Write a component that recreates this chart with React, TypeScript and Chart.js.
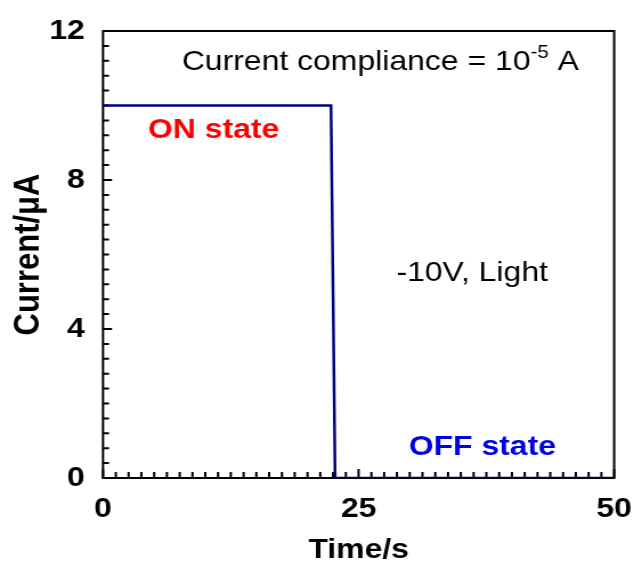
import React, { useEffect, useRef } from "react";
import { Chart, registerables } from "chart.js";

Chart.register(...registerables);

// ---- data ----
const timeValues = [0, 22.3, 22.7, 50];
const currentValues = [10, 10, 0, 0];
const xTickValues = [0, 25, 50];
const yTickValues = [0, 4, 8, 12];
const xMinorStep = 1.25;
const yMinorStep = 0.4;

const annotationTexts = ["ON state", "-10V, Light", "OFF state"];
const annotationX = [4.4, 28.7, 29.9];
const annotationY = [9.34, 5.5, 0.83];
const annotationColors = ["#ff0000", "#000000", "#0000e0"];
const annotationWeights = ["bold", "normal", "bold"];
const complianceMain = "Current compliance = 10";
const complianceSup = "-5";
const complianceTail = " A";
const complianceX = 7.7;
const complianceY = 11.17;

const FONT = '"Liberation Sans", Arial, sans-serif';
const STRETCH = 1.14;
const VIEW_W = 634;
const VIEW_H = 567;
const CANVAS_W = Math.round(VIEW_W / STRETCH);

const boxPlugin = {
  id: "boxAndMinor",
  beforeDatasetsDraw(chart: any) {
    const { ctx, chartArea: a, scales } = chart;
    const xs = scales.x;
    const ys = scales.y;
    ctx.save();
    ctx.strokeStyle = "#000";
    ctx.lineWidth = 2;
    ctx.strokeRect(a.left, a.top, a.right - a.left, a.bottom - a.top);
    ctx.beginPath();
    for (let v = xs.min; v <= xs.max + 1e-9; v += xMinorStep) {
      const px = xs.getPixelForValue(v);
      const major = xTickValues.some((t) => Math.abs(t - v) < 1e-6);
      const len = major ? 9 : 6;
      ctx.moveTo(px, a.bottom);
      ctx.lineTo(px, a.bottom - len);
    }
    for (let v = ys.min; v <= ys.max + 1e-9; v += yMinorStep) {
      const py = ys.getPixelForValue(v);
      const major = yTickValues.some((t) => Math.abs(t - v) < 1e-6);
      const len = (major ? 9 : 6) / STRETCH;
      ctx.moveTo(a.left, py);
      ctx.lineTo(a.left + len, py);
    }
    ctx.stroke();
    ctx.restore();
  },
  afterDraw(chart: any) {
    const { ctx, scales } = chart;
    const xs = scales.x;
    const ys = scales.y;
    ctx.save();
    ctx.textBaseline = "middle";
    ctx.textAlign = "left";
    annotationTexts.forEach((t, i) => {
      ctx.font = `${annotationWeights[i]} 28px ${FONT}`;
      ctx.fillStyle = annotationColors[i];
      ctx.fillText(t, xs.getPixelForValue(annotationX[i]), ys.getPixelForValue(annotationY[i]));
    });
    let x = xs.getPixelForValue(complianceX);
    const y = ys.getPixelForValue(complianceY);
    ctx.fillStyle = "#000";
    ctx.font = `normal 28px ${FONT}`;
    ctx.fillText(complianceMain, x, y);
    x += ctx.measureText(complianceMain).width;
    ctx.font = `normal 18px ${FONT}`;
    ctx.fillText(complianceSup, x, y - 9);
    x += ctx.measureText(complianceSup).width;
    ctx.font = `normal 28px ${FONT}`;
    ctx.fillText(complianceTail, x, y);
    ctx.restore();
  },
};

export default function App() {
  const ref = useRef<HTMLCanvasElement | null>(null);
  useEffect(() => {
    if (!ref.current) return;
    const chart = new Chart(ref.current, {
      type: "line",
      data: {
        datasets: [
          {
            data: timeValues.map((t, i) => ({ x: t, y: currentValues[i] })),
            borderColor: "#00007f",
            borderWidth: 2.5,
            pointRadius: 0,
            tension: 0,
            fill: false,
          },
        ],
      },
      options: {
        animation: false,
        responsive: false,
        maintainAspectRatio: false,
        devicePixelRatio: 1,
        layout: { padding: { top: 31, right: CANVAS_W - 614 / STRETCH, left: 0, bottom: 0 } },
        plugins: { legend: { display: false }, tooltip: { enabled: false } },
        scales: {
          x: {
            type: "linear",
            min: 0,
            max: 50,
            afterFit: (s: any) => {
              s.height = VIEW_H - 478;
              s.paddingLeft = 0;
              s.paddingRight = 0;
            },
            afterBuildTicks: (s: any) => {
              s.ticks = xTickValues.map((v) => ({ value: v }));
            },
            ticks: {
              color: "#000",
              padding: 14,
              maxRotation: 0,
              font: { family: FONT, size: 28, weight: "bold" },
            },
            grid: { display: false, drawTicks: false },
            border: { display: false },
            title: {
              display: true,
              text: "Time/s",
              color: "#000",
              padding: { top: 0, bottom: 0 },
              font: { family: FONT, size: 28, weight: "bold" },
            },
          },
          y: {
            type: "linear",
            min: 0,
            max: 12,
            afterFit: (s: any) => {
              s.width = 103 / STRETCH;
              s.paddingTop = 0;
              s.paddingBottom = 0;
            },
            afterBuildTicks: (s: any) => {
              s.ticks = yTickValues.map((v) => ({ value: v }));
            },
            ticks: {
              color: "#000",
              padding: 16,
              font: { family: FONT, size: 28, weight: "bold" },
            },
            grid: { display: false, drawTicks: false },
            border: { display: false },
            title: {
              display: true,
              text: "Current/μA",
              color: "#000",
              padding: { top: 7, bottom: 0 },
              font: { family: FONT, size: 31, weight: "bold" },
            },
          },
        },
      },
      plugins: [boxPlugin],
    } as any);
    return () => chart.destroy();
  }, []);
  return (
    <div style={{ position: "fixed", left: 0, top: 0, width: VIEW_W, height: VIEW_H, background: "#fff" }}>
      <canvas
        ref={ref}
        width={CANVAS_W}
        height={VIEW_H}
        style={{ width: `${VIEW_W}px`, height: `${VIEW_H}px`, display: "block" }}
      />
    </div>
  );
}
